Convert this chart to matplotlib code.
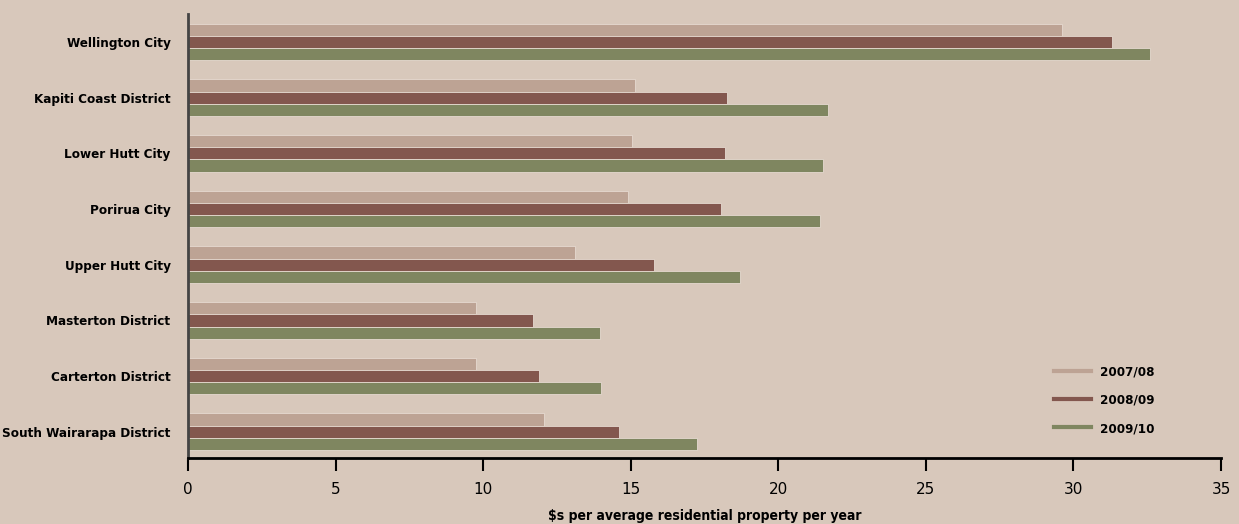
import matplotlib
matplotlib.use("Agg")
import matplotlib.pyplot as plt
import numpy as np
from matplotlib.lines import Line2D
from matplotlib import font_manager as fm

categories = ["Wellington City", "Kapiti Coast District", "Lower Hutt City", "Porirua City",
              "Upper Hutt City", "Masterton District", "Carterton District", "South Wairarapa District"]
series_names = ["2007/08", "2008/09", "2009/10"]
v2007 = [29.6, 15.15, 15.05, 14.9, 13.1, 9.75, 9.75, 12.05]
v2008 = [31.3, 18.25, 18.2, 18.05, 15.8, 11.7, 11.9, 14.6]
v2009 = [32.6, 21.7, 21.5, 21.4, 18.7, 13.95, 14.0, 17.25]
xticks = [0, 5, 10, 15, 20, 25, 30, 35]

colors = ["#bda394", "#83574e", "#7f8660"]
bg = "#d8c8bb"

cond = None
for f in fm.fontManager.ttflist:
    if "Condensed" in f.fname and "Bold" in f.fname and "Oblique" not in f.fname and "Italic" not in f.fname:
        if "DejaVuSans" in f.fname and "Mono" not in f.fname and "Serif" not in f.fname:
            cond = f.fname
            break

def lf(size):
    if cond:
        return fm.FontProperties(fname=cond, size=size)
    return fm.FontProperties(family="DejaVu Sans", weight="bold", stretch="condensed", size=size)

fig = plt.figure(figsize=(12.39, 5.24), dpi=100)
fig.patch.set_facecolor(bg)
ax = fig.add_axes([0.1517, 0.126, 0.8338, 0.847])
ax.set_facecolor(bg)

y = np.arange(len(categories))
h = 0.22
for i, (vals, c) in enumerate(zip([v2007, v2008, v2009], colors)):
    ax.barh(y + (i - 1) * h, vals, height=h, color=c, edgecolor="#e6dad0", linewidth=0.6)

ax.set_ylim(7.47, -0.5)
ax.set_xlim(0, 35)
ax.set_yticks(y)
ax.set_yticklabels(categories)
for t in ax.get_yticklabels():
    t.set_fontproperties(lf(9.6))
ax.set_xticks(xticks)
ax.set_xticklabels([str(t) for t in xticks], fontsize=11)
ax.tick_params(axis="y", length=0, pad=12.5)
ax.tick_params(axis="x", length=9, width=1.5, direction="out", pad=8)
for s in ["top", "right"]:
    ax.spines[s].set_visible(False)
ax.spines["left"].set_color("#444444")
ax.spines["left"].set_linewidth(2)
ax.spines["bottom"].set_color("black")
ax.spines["bottom"].set_linewidth(2)
ax.set_xlabel("$s per average residential property per year", fontproperties=lf(10), labelpad=9)

handles = [Line2D([0], [0], color=c, lw=3) for c in colors]
leg = ax.legend(handles, series_names, loc="lower right", bbox_to_anchor=(0.947, 0.025), frameon=False,
                handlelength=2.8, labelspacing=1.15, handletextpad=0.7, prop=lf(9.5))

fig.savefig("out.png", dpi=100, facecolor=bg)
